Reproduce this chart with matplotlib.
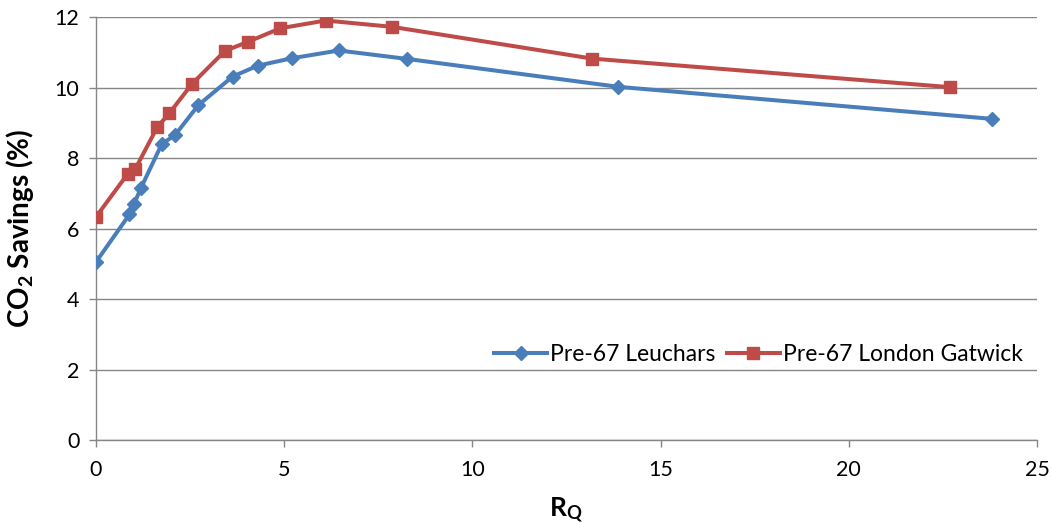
import matplotlib
matplotlib.use("Agg")
import matplotlib.pyplot as plt

plt.rcParams['font.family'] = ['Lato', 'DejaVu Sans']
plt.rcParams['mathtext.fontset'] = 'custom'
plt.rcParams['mathtext.rm'] = 'Lato'
plt.rcParams['mathtext.bf'] = 'Lato:bold'
plt.rcParams['mathtext.it'] = 'Lato:italic'

# Leuchars series
rq_leuchars = [0.0, 0.89, 1.01, 1.19, 1.75, 2.10, 2.72, 3.63, 4.30, 5.21, 6.45, 8.27, 13.87, 23.81]
co2_leuchars = [5.05, 6.40, 6.69, 7.14, 8.40, 8.65, 9.50, 10.31, 10.62, 10.83, 11.05, 10.81, 10.02, 9.11]

# London Gatwick series
rq_gatwick = [0.0, 0.85, 1.05, 1.63, 1.95, 2.55, 3.43, 4.05, 4.90, 6.10, 7.87, 13.18, 22.69]
co2_gatwick = [6.33, 7.56, 7.70, 8.88, 9.27, 10.10, 11.04, 11.30, 11.68, 11.90, 11.72, 10.82, 10.01]

series_labels = ['Pre-67 Leuchars', 'Pre-67 London Gatwick']
x_ticks = [0, 5, 10, 15, 20, 25]
y_ticks = [0, 2, 4, 6, 8, 10, 12]

fig = plt.figure(figsize=(10.51, 5.24), dpi=100)
ax = fig.add_axes([0.0913, 0.160, 0.8954, 0.8076])

blue = '#4A7EBB'
red = '#BE4B48'
grid_c = '#868686'

ax.plot(rq_leuchars, co2_leuchars, color=blue, lw=2.9, marker='D', ms=7.5,
        label=series_labels[0], zorder=3)
ax.plot(rq_gatwick, co2_gatwick, color=red, lw=2.9, marker='s', ms=8.5,
        label=series_labels[1], zorder=3)

ax.set_xlim(0, 25)
ax.set_ylim(0, 12)
ax.set_xticks(x_ticks)
ax.set_yticks(y_ticks)
ax.yaxis.grid(True, color=grid_c, lw=1.0)
ax.set_axisbelow(True)

for s in ['top', 'right']:
    ax.spines[s].set_visible(False)
for s in ['left', 'bottom']:
    ax.spines[s].set_color(grid_c)
    ax.spines[s].set_linewidth(1.0)
ax.tick_params(axis='both', colors=grid_c, length=5, width=1.0, labelsize=15.5,
               labelcolor='black', direction='out')
ax.tick_params(axis='x', pad=9)
ax.tick_params(axis='y', pad=7)

ax.set_xlabel(r'R$_{\mathbf{Q}}$', fontsize=19, fontweight='bold', labelpad=12)
ax.set_ylabel(r'CO$_{\mathbf{2}}$ Savings (%)', fontsize=20, fontweight='bold', labelpad=13)

ax.legend(loc='lower right', bbox_to_anchor=(0.995, 0.155), ncol=2, frameon=False,
          fontsize=16.5, handlelength=2.3, columnspacing=0.5, handletextpad=0.15,
          borderaxespad=0.0)

fig.savefig('out.png', dpi=100)
